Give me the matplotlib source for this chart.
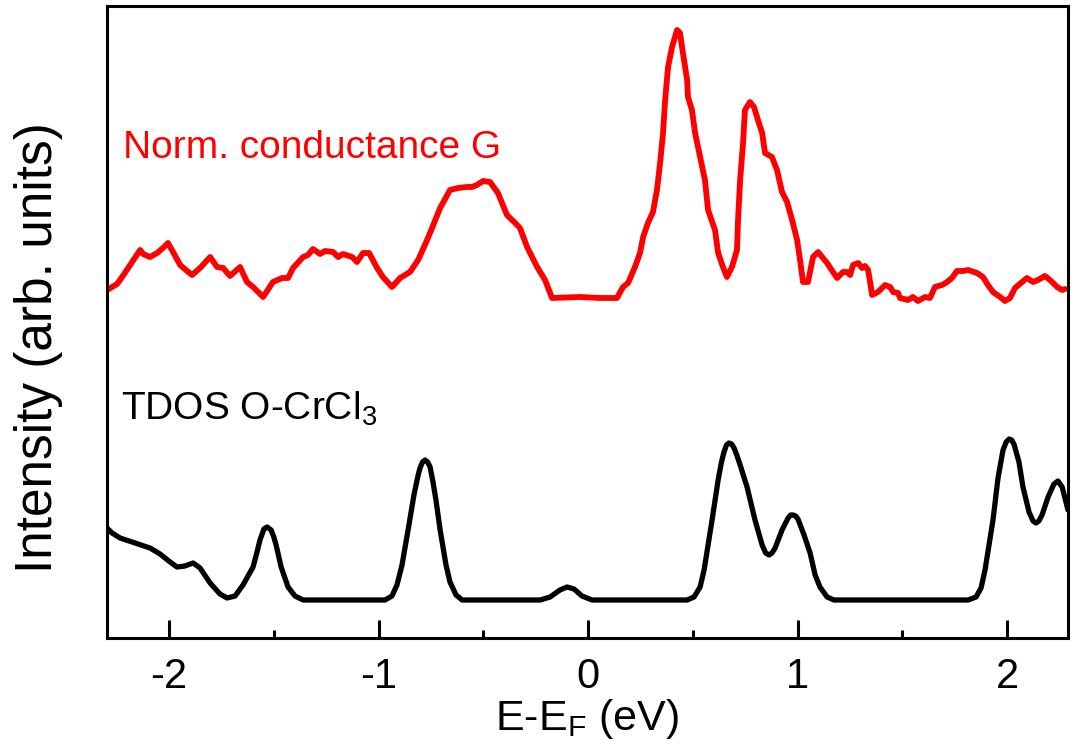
import matplotlib
matplotlib.use('Agg')
import matplotlib.pyplot as plt
import numpy as np
from matplotlib.ticker import MultipleLocator

plt.rcParams['font.family'] = ['Liberation Sans', 'DejaVu Sans']
plt.rcParams['mathtext.default'] = 'regular'
plt.rcParams['axes.unicode_minus'] = False

# normalized conductance G (red)
g_e = [-2.296, -2.248, -2.224, -2.186, -2.138, -2.124, -2.091, -2.057, -2.029, -2.005,
       -1.981, -1.947, -1.914, -1.890, -1.852, -1.804, -1.771, -1.742, -1.709, -1.661,
       -1.628, -1.599, -1.551, -1.504, -1.461, -1.432, -1.408, -1.360, -1.337, -1.313,
       -1.279, -1.255, -1.217, -1.193, -1.169, -1.126, -1.103, -1.074, -1.045, -1.007,
       -0.979, -0.936, -0.897, -0.850, -0.811, -0.768, -0.706, -0.659, -0.621, -0.578,
       -0.554, -0.530, -0.501, -0.468, -0.430, -0.387, -0.348, -0.325, -0.291, -0.243,
       -0.205, -0.172, -0.038, 0.057, 0.138, 0.167, 0.191, 0.224, 0.248, 0.263,
       0.286, 0.310, 0.329, 0.344, 0.358, 0.368, 0.382, 0.401, 0.425, 0.439,
       0.453, 0.473, 0.477, 0.496, 0.511, 0.535, 0.558, 0.573, 0.606, 0.621,
       0.644, 0.663, 0.687, 0.711, 0.716, 0.726, 0.740, 0.749, 0.773, 0.792,
       0.811, 0.831, 0.845, 0.878, 0.902, 0.926, 0.950, 0.974, 0.998, 1.012,
       1.026, 1.050, 1.074, 1.098, 1.141, 1.169, 1.189, 1.217, 1.236, 1.251,
       1.265, 1.289, 1.308, 1.322, 1.337, 1.356, 1.384, 1.418, 1.442, 1.456,
       1.480, 1.489, 1.527, 1.551, 1.575, 1.609, 1.632, 1.656, 1.690, 1.714,
       1.737, 1.761, 1.790, 1.814, 1.857, 1.885, 1.909, 1.933, 1.967, 1.990,
       2.014, 2.038, 2.072, 2.095, 2.124, 2.148, 2.181, 2.205, 2.239, 2.263, 2.277]
g_val = [3.10, 3.16, 3.23, 3.35, 3.50, 3.46, 3.43, 3.47, 3.52, 3.57,
         3.48, 3.35, 3.29, 3.25, 3.32, 3.43, 3.33, 3.32, 3.24, 3.33,
         3.18, 3.13, 3.03, 3.18, 3.22, 3.22, 3.32, 3.43, 3.45, 3.51,
         3.46, 3.49, 3.48, 3.43, 3.46, 3.43, 3.38, 3.47, 3.47, 3.32,
         3.23, 3.13, 3.22, 3.28, 3.40, 3.60, 3.92, 4.10, 4.12, 4.13,
         4.13, 4.15, 4.19, 4.18, 4.07, 3.85, 3.77, 3.72, 3.53, 3.33,
         3.20, 3.02, 3.03, 3.02, 3.02, 3.13, 3.17, 3.33, 3.47, 3.63,
         3.77, 3.88, 4.10, 4.37, 4.67, 5.00, 5.33, 5.53, 5.70, 5.67,
         5.47, 5.20, 5.03, 4.90, 4.67, 4.43, 4.20, 3.90, 3.70, 3.47,
         3.33, 3.23, 3.33, 3.50, 3.80, 4.20, 4.57, 4.90, 4.98, 4.93,
         4.80, 4.67, 4.47, 4.43, 4.30, 4.08, 3.98, 3.80, 3.60, 3.40,
         3.18, 3.18, 3.43, 3.48, 3.37, 3.28, 3.22, 3.28, 3.28, 3.25,
         3.35, 3.37, 3.32, 3.34, 3.30, 3.05, 3.08, 3.15, 3.13, 3.08,
         3.07, 3.02, 3.00, 3.03, 2.99, 3.03, 3.02, 3.13, 3.15, 3.18,
         3.22, 3.29, 3.29, 3.30, 3.27, 3.23, 3.15, 3.08, 3.03, 2.99,
         3.02, 3.12, 3.18, 3.22, 3.18, 3.20, 3.24, 3.20, 3.13, 3.10, 3.11]

# total DOS of O-CrCl3 (black)
dos_e = [-2.296, -2.272, -2.234, -2.162, -2.091, -2.043, -1.995, -1.962, -1.924, -1.885,
         -1.852, -1.804, -1.757, -1.723, -1.685, -1.647, -1.599, -1.580, -1.566, -1.547,
         -1.532, -1.513, -1.500, -1.489, -1.465, -1.432, -1.399, -1.360, -0.969, -0.936,
         -0.912, -0.888, -0.859, -0.831, -0.812, -0.802, -0.790, -0.778, -0.766, -0.754,
         -0.740, -0.726, -0.706, -0.678, -0.659, -0.630, -0.601, -0.229, -0.181, -0.134,
         -0.100, -0.067, -0.029, 0.019, 0.473, 0.506, 0.535, 0.554, 0.573, 0.592,
         0.621, 0.637, 0.649, 0.661, 0.673, 0.685, 0.697, 0.710, 0.726, 0.759,
         0.797, 0.831, 0.848, 0.864, 0.878, 0.893, 0.926, 0.955, 0.967, 0.979,
         0.991, 1.002, 1.031, 1.060, 1.084, 1.107, 1.141, 1.174, 1.814, 1.852,
         1.876, 1.895, 1.914, 1.933, 1.957, 1.981, 1.996, 2.010, 2.022, 2.033,
         2.057, 2.076, 2.105, 2.124, 2.138, 2.152, 2.167, 2.196, 2.224, 2.243,
         2.263, 2.291]
dos_val = [0.72, 0.67, 0.62, 0.57, 0.52, 0.46, 0.38, 0.33, 0.34, 0.37,
           0.32, 0.17, 0.06, 0.02, 0.04, 0.15, 0.33, 0.48, 0.60, 0.71,
           0.73, 0.70, 0.63, 0.55, 0.33, 0.13, 0.04, 0.00, 0.00, 0.04,
           0.15, 0.35, 0.70, 1.05, 1.24, 1.32, 1.38, 1.40, 1.38, 1.33,
           1.18, 1.00, 0.70, 0.35, 0.18, 0.05, 0.00, 0.00, 0.03, 0.10,
           0.13, 0.11, 0.04, 0.00, 0.00, 0.03, 0.13, 0.30, 0.55, 0.80,
           1.20, 1.38, 1.48, 1.55, 1.57, 1.56, 1.52, 1.45, 1.35, 1.13,
           0.80, 0.55, 0.47, 0.45, 0.47, 0.52, 0.70, 0.82, 0.85, 0.85,
           0.84, 0.81, 0.65, 0.47, 0.25, 0.13, 0.03, 0.00, 0.00, 0.03,
           0.12, 0.30, 0.55, 0.80, 1.22, 1.50, 1.58, 1.61, 1.60, 1.56,
           1.38, 1.13, 0.88, 0.79, 0.77, 0.79, 0.85, 1.03, 1.16, 1.19,
           1.13, 0.90]

fig = plt.figure(figsize=(10.79, 7.49), dpi=100)
ax = fig.add_axes([0.0992, 0.1482, 0.8906, 0.8438])

ax.plot(g_e, g_val, color='#ff0000', lw=4.2, solid_joinstyle='round', solid_capstyle='round')
ax.plot(dos_e, dos_val, color='black', lw=3.8, solid_joinstyle='round', solid_capstyle='round')

ax.text(-2.220, 4.42, 'Norm. conductance G', color='#ff0000', fontsize=28, va='baseline', ha='left')
ax.text(-2.229, 1.80, 'TDOS O-CrCl$_3$', color='black', fontsize=28, va='baseline', ha='left')

ax.set_xlim(-2.296, 2.291)
ax.set_ylim(-0.38, 5.94)
ax.set_yticks([])
ax.xaxis.set_major_locator(MultipleLocator(1))
ax.xaxis.set_minor_locator(MultipleLocator(0.5))
ax.tick_params(axis='x', which='major', direction='in', length=13, width=2.2, labelsize=30, pad=14)
ax.tick_params(axis='x', which='minor', direction='in', length=6, width=2.2)
for s in ax.spines.values():
    s.set_linewidth(2.2)

ax.set_xlabel('E-E$_F$ (eV)', fontsize=31, labelpad=0)
ax.set_ylabel('Intensity (arb. units)', fontsize=37)
ax.yaxis.set_label_coords(-0.046, 0.46)

fig.savefig('out.png', dpi=100)
